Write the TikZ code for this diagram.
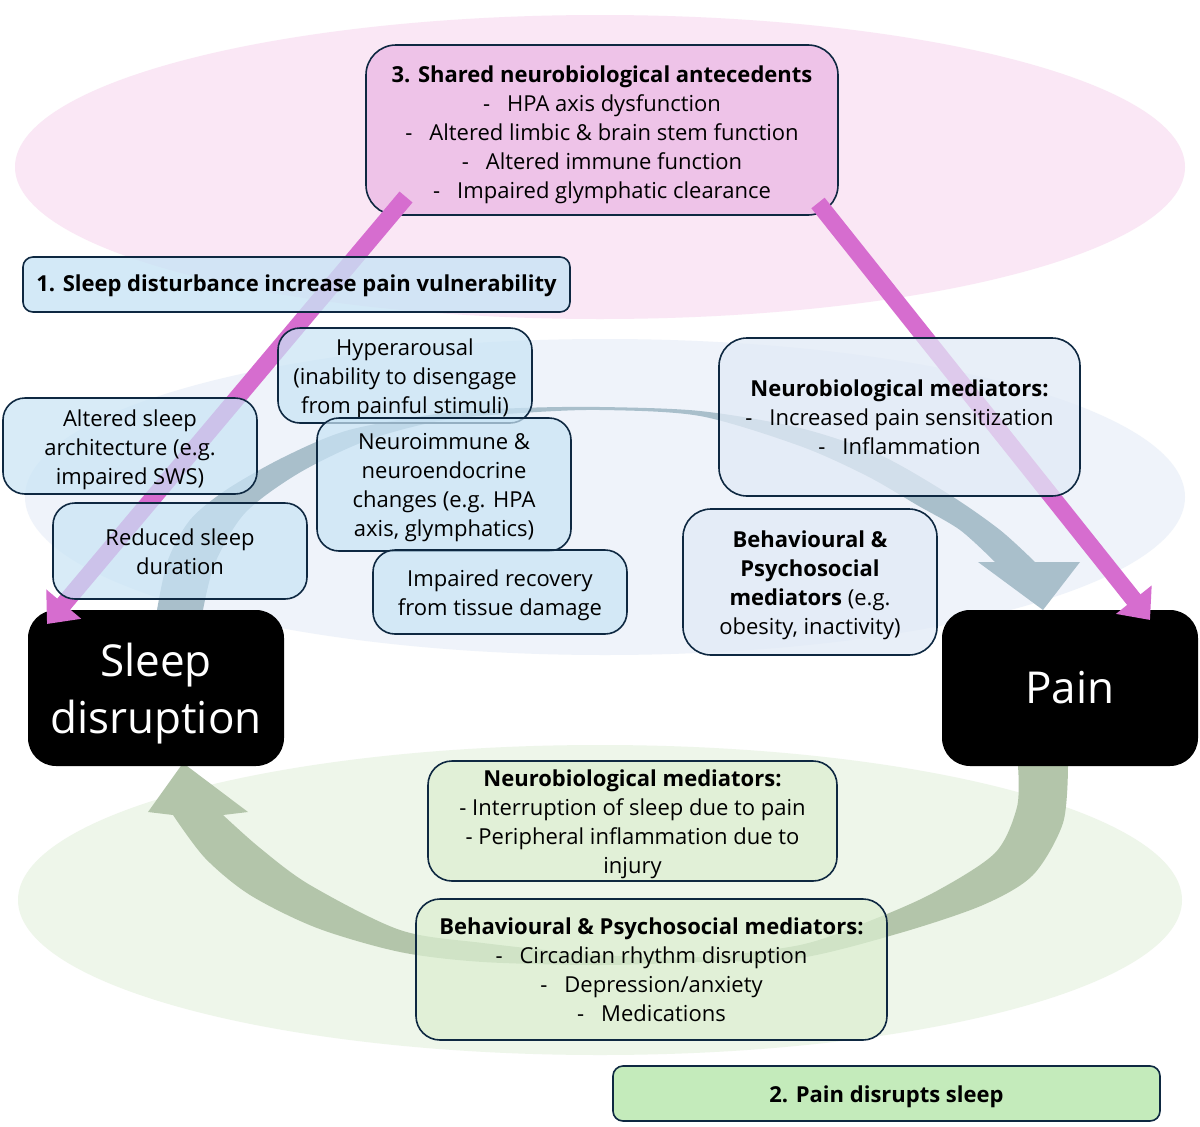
\documentclass[tikz,border=0pt]{standalone}
\usepackage{fontspec}
\setmainfont{Open Sans}
\usetikzlibrary{arrows.meta}
\definecolor{navy}{HTML}{0E2841}
\definecolor{pinkbg}{HTML}{FAE7F5}
\definecolor{bluebg}{HTML}{EFF3FA}
\definecolor{greenbg}{HTML}{EEF6EA}
\definecolor{boxpink}{HTML}{EEC3E8}
\definecolor{boxblue}{HTML}{C9E4F5}
\definecolor{boxpale}{HTML}{E1EAF6}
\definecolor{boxgreen}{HTML}{DCEFD1}
\definecolor{boxgreenS}{HTML}{C4EBBB}
\definecolor{arrpink}{HTML}{D66DCF}
\definecolor{arrgrey}{HTML}{A9BFCB}
\definecolor{arrgreen}{HTML}{B3C5AA}
\newcommand\fs{\fontsize{22}{29}\selectfont}
\newcommand\fb{\fontsize{44}{57}\selectfont}
\newcommand\dsh{-\hspace{17pt}}
\newcommand\st[1]{\rule{0pt}{#1pt}}
\tikzset{
  bx/.style={draw=navy, line width=1.6pt, align=center, inner sep=0pt, font=\fs, text opacity=1},
  bluebx/.style={bx, fill=boxblue, fill opacity=0.72, rounded corners=22pt},
  palebx/.style={bx, fill=boxpale, fill opacity=0.75, rounded corners=28pt},
  greenbx/.style={bx, fill=boxgreen, fill opacity=0.72, rounded corners=24pt},
  blackbx/.style={fill=black, rounded corners=28pt, text=white, align=center, font=\fb, inner sep=0pt},
  pinkarrow/.style={draw=arrpink, line width=17pt, -{Triangle[width=44pt,length=26pt]}},
}
\begin{document}
\begin{tikzpicture}[x=1pt,y=-1pt]
\useasboundingbox (0,0) rectangle (1200,1127);
\fill[white] (0,0) rectangle (1200,1127);
% background ellipses
\fill[pinkbg] (600,167) ellipse [x radius=585, y radius=152];
\fill[bluebg] (605,497) ellipse [x radius=580, y radius=158];
\fill[greenbg] (600,900) ellipse [x radius=582, y radius=155];
% curved grey arrow (sleep -> pain)
\fill[arrgrey] plot[smooth] coordinates {(157,610) (168,560) (190,520) (226,490) (284,457) (349,430) (444,413) (521,408) (600,407) (700,411) (800,428) (880,455) (950,495) (1000,530) (1035,562)}
  -- (1080,562) -- (1043,610) -- (978,562) -- (995,562)
  -- plot[smooth] coordinates {(995,562) (960,530) (917,505) (867,476) (800,446) (700,416) (600,410) (521,413) (444,420) (368,440) (299,473) (245,513) (215,563) (203,610)} -- cycle;
% curved green arrow (pain -> sleep)
\fill[arrgreen] plot[smooth] coordinates {(1068,766) (1063,823) (1033,875) (983,905) (900,933) (800,958) (700,962) (600,965) (483,962) (400,952) (317,928) (250,895) (205,858) (173,815)}
  -- (148,812) -- (183,763) -- (248,812) -- (223,815)
  -- plot[smooth] coordinates {(223,815) (260,848) (310,885) (400,930) (483,943) (600,955) (700,957) (800,945) (867,922) (933,893) (995,853) (1017,807) (1018,766)} -- cycle;
% black boxes
\node[blackbx, minimum width=256, minimum height=156] (sleep) at (156,688) {\st{44}Sleep\\disruption};
\node[blackbx, minimum width=256, minimum height=156] (pain) at (1070,688) {Pain};
% top box
\node[bx, fill=boxpink, rounded corners=30pt, minimum width=472, minimum height=170] (shared) at (602,130)
  {\st{27}\textbf{3. Shared neurobiological antecedents}\\\dsh HPA axis dysfunction\\\dsh Altered limbic \& brain stem function\\\dsh Altered immune function\\\dsh Impaired glymphatic clearance};
% pink arrows
\coordinate (p1s) at (406,197);
\coordinate (p1e) at (47,624);
\coordinate (p2s) at (818,203);
\coordinate (p2e) at (1150,620);
\draw[pinkarrow] (p1s) -- (p1e);
\draw[pinkarrow] (p2s) -- (p2e);
% upper boxes
\node[bx, fill=boxblue, fill opacity=0.8, rounded corners=10pt, minimum width=547, minimum height=55] (one) at (296.5,284.5)
  {\st{19}\textbf{1. Sleep disturbance increase pain vulnerability}};
\node[bluebx, minimum width=254, minimum height=95] (hyper) at (405,375.5)
  {\st{23}Hyperarousal\\(inability to disengage\\from painful stimuli)};
\node[bluebx, minimum width=254, minimum height=96] (arch) at (130,446)
  {\st{25}Altered sleep\\architecture (e.g.\\impaired SWS)};
\node[bluebx, minimum width=254, minimum height=133] (neuroim) at (444,484.5)
  {\st{23}Neuroimmune \&\\neuroendocrine\\changes (e.g. HPA\\axis, glymphatics)};
\node[bluebx, minimum width=254, minimum height=96] (dur) at (180,551)
  {\st{18}Reduced sleep\\duration};
\node[bluebx, minimum width=254, minimum height=84] (recov) at (500,592)
  {\st{23}Impaired recovery\\from tissue damage};
\node[palebx, minimum width=361, minimum height=158] (nbm) at (899.5,417)
  {\st{18}\textbf{Neurobiological mediators:}\\\dsh Increased pain sensitization\\\dsh Inflammation};
\node[palebx, minimum width=254, minimum height=146] (bpm) at (810,582)
  {\st{23}\textbf{Behavioural \&}\\\textbf{Psychosocial}\\\textbf{mediators} (e.g.\\obesity, inactivity)};
% green boxes
\node[greenbx, minimum width=409, minimum height=120] (gnbm) at (632.5,821)
  {\st{23}\textbf{Neurobiological mediators:}\\- Interruption of sleep due to pain\\- Peripheral inflammation due to\\injury};
\node[greenbx, minimum width=471, minimum height=141] (gbpm) at (651.5,969.5)
  {\st{18}\textbf{Behavioural \& Psychosocial mediators:}\\\dsh Circadian rhythm disruption\\\dsh Depression/anxiety\\\dsh Medications};
\node[bx, fill=boxgreenS, rounded corners=10pt, minimum width=547, minimum height=55] (two) at (886.5,1093.5)
  {\st{23}\textbf{2. Pain disrupts sleep}};
\end{tikzpicture}
\end{document}
